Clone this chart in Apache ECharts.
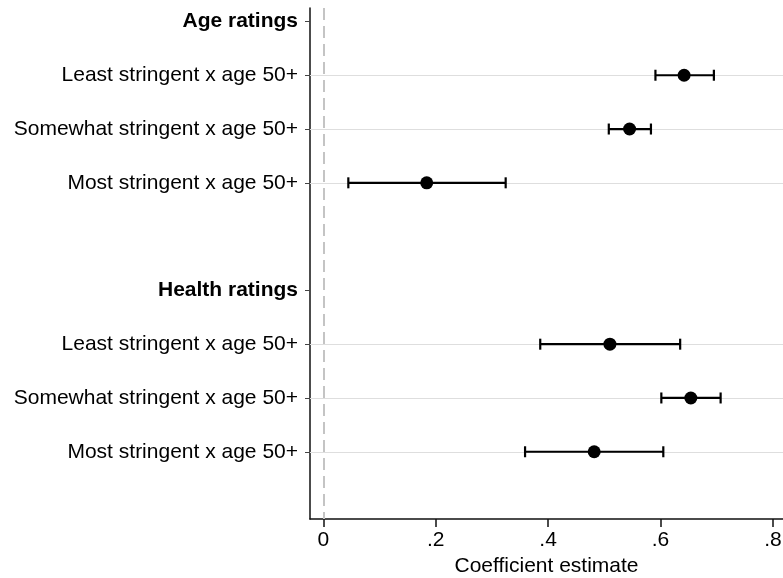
<!DOCTYPE html>
<html>
<head>
<meta charset="utf-8">
<script src="https://cdn.jsdelivr.net/npm/echarts@6/dist/echarts.min.js"></script>
<style>
  html, body { margin: 0; padding: 0; background: #fff; }
  #chart { width: 783px; height: 578px; }
</style>
</head>
<body>
<div id="chart"></div>
<script>
// Row labels, top to bottom (row index = position on the y axis)
const rowLabels = [
  'Age ratings',
  'Least stringent x age 50+',
  'Somewhat stringent x age 50+',
  'Most stringent x age 50+',
  '',
  'Health ratings',
  'Least stringent x age 50+',
  'Somewhat stringent x age 50+',
  'Most stringent x age 50+'
];
const headerRows = [0, 5];
const labelRows = [0, 1, 2, 3, 5, 6, 7, 8];

// Coefficient rows and their estimates with 95% confidence bounds
const coefRows  = [1, 2, 3, 6, 7, 8];
const estimates = [0.642, 0.545, 0.184, 0.510, 0.654, 0.482];
const ciLow     = [0.591, 0.508, 0.0445, 0.386, 0.6015, 0.359];
const ciHigh    = [0.695, 0.583, 0.3245, 0.635, 0.707, 0.605];

// x-axis ticks
const xTicks = [0, 0.2, 0.4, 0.6, 0.8];

const FONT = "'Liberation Sans', Arial, Helvetica, sans-serif";

const chart = echarts.init(document.getElementById('chart'), null, { renderer: 'canvas' });

const option = {
  animation: false,
  backgroundColor: '#fff',
  textStyle: { fontFamily: FONT },
  grid: { left: 310, right: 0, top: 8, bottom: 59, containLabel: false, outerBoundsMode: 'none' },
  xAxis: {
    type: 'value',
    position: 'bottom',
    min: -0.0237,
    max: 0.818,
    name: 'Coefficient estimate',
    nameLocation: 'middle',
    nameGap: 37,
    nameTextStyle: { fontFamily: FONT, fontSize: 21, color: '#000' },
    axisLine: { show: true, onZero: false, lineStyle: { color: '#111', width: 1.5 } },
    axisTick: { show: true, length: 8, customValues: xTicks, lineStyle: { color: '#111', width: 1.5 } },
    axisLabel: {
      customValues: xTicks,
      margin: 11,
      fontFamily: FONT,
      fontSize: 21,
      color: '#000',
      formatter: v => (Math.abs(v) < 1e-9 ? '0' : String(+v.toFixed(2)).replace(/^0/, ''))
    },
    splitLine: { show: false }
  },
  yAxis: {
    type: 'value',
    position: 'left',
    inverse: true,
    min: -0.25,
    max: 9.25,
    axisLine: { show: true, onZero: false, lineStyle: { color: '#111', width: 1.5 } },
    axisTick: { show: true, length: 5, customValues: labelRows, lineStyle: { color: '#444', width: 1 } },
    axisLabel: {
      customValues: labelRows,
      margin: 12,
      fontFamily: FONT,
      fontSize: 21,
      color: '#000',
      formatter: v => {
        const i = Math.round(v);
        const t = rowLabels[i] || '';
        return headerRows.includes(i) ? '{b|' + t + '}' : t;
      },
      rich: {
        b: { fontFamily: FONT, fontSize: 21, fontWeight: 'bold', color: '#000' }
      }
    },
    splitLine: { show: false }
  },
  series: [
    {
      // row gridlines and the zero reference line
      type: 'scatter',
      data: [],
      z: 1,
      silent: true,
      markLine: {
        silent: true,
        z: 1,
        symbol: ['none', 'none'],
        label: { show: false },
        animation: false,
        data: coefRows.map(r => ({
          yAxis: r,
          lineStyle: { color: '#dedede', width: 1.2, type: 'solid' }
        })).concat([{
          xAxis: 0,
          lineStyle: { color: '#c4c4c4', width: 2, type: [12, 6] }
        }])
      }
    },
    {
      // confidence intervals with end caps
      type: 'custom',
      z: 10,
      data: coefRows.map((r, i) => [r, ciLow[i], ciHigh[i]]),
      encode: { x: [1, 2], y: 0 },
      renderItem: (params, api) => {
        const y = api.value(0);
        const a = api.coord([api.value(1), y]);
        const b = api.coord([api.value(2), y]);
        const h = 5.5;
        const st = { stroke: '#000', lineWidth: 2.2 };
        return {
          type: 'group',
          children: [
            { type: 'line', shape: { x1: a[0], y1: a[1], x2: b[0], y2: b[1] }, style: st },
            { type: 'line', shape: { x1: a[0], y1: a[1] - h, x2: a[0], y2: a[1] + h }, style: st },
            { type: 'line', shape: { x1: b[0], y1: b[1] - h, x2: b[0], y2: b[1] + h }, style: st }
          ]
        };
      }
    },
    {
      // point estimates
      type: 'scatter',
      z: 11,
      symbol: 'circle',
      symbolSize: 13,
      itemStyle: { color: '#000', opacity: 1 },
      data: coefRows.map((r, i) => [estimates[i], r])
    }
  ]
};

chart.setOption(option);
</script>
</body>
</html>
